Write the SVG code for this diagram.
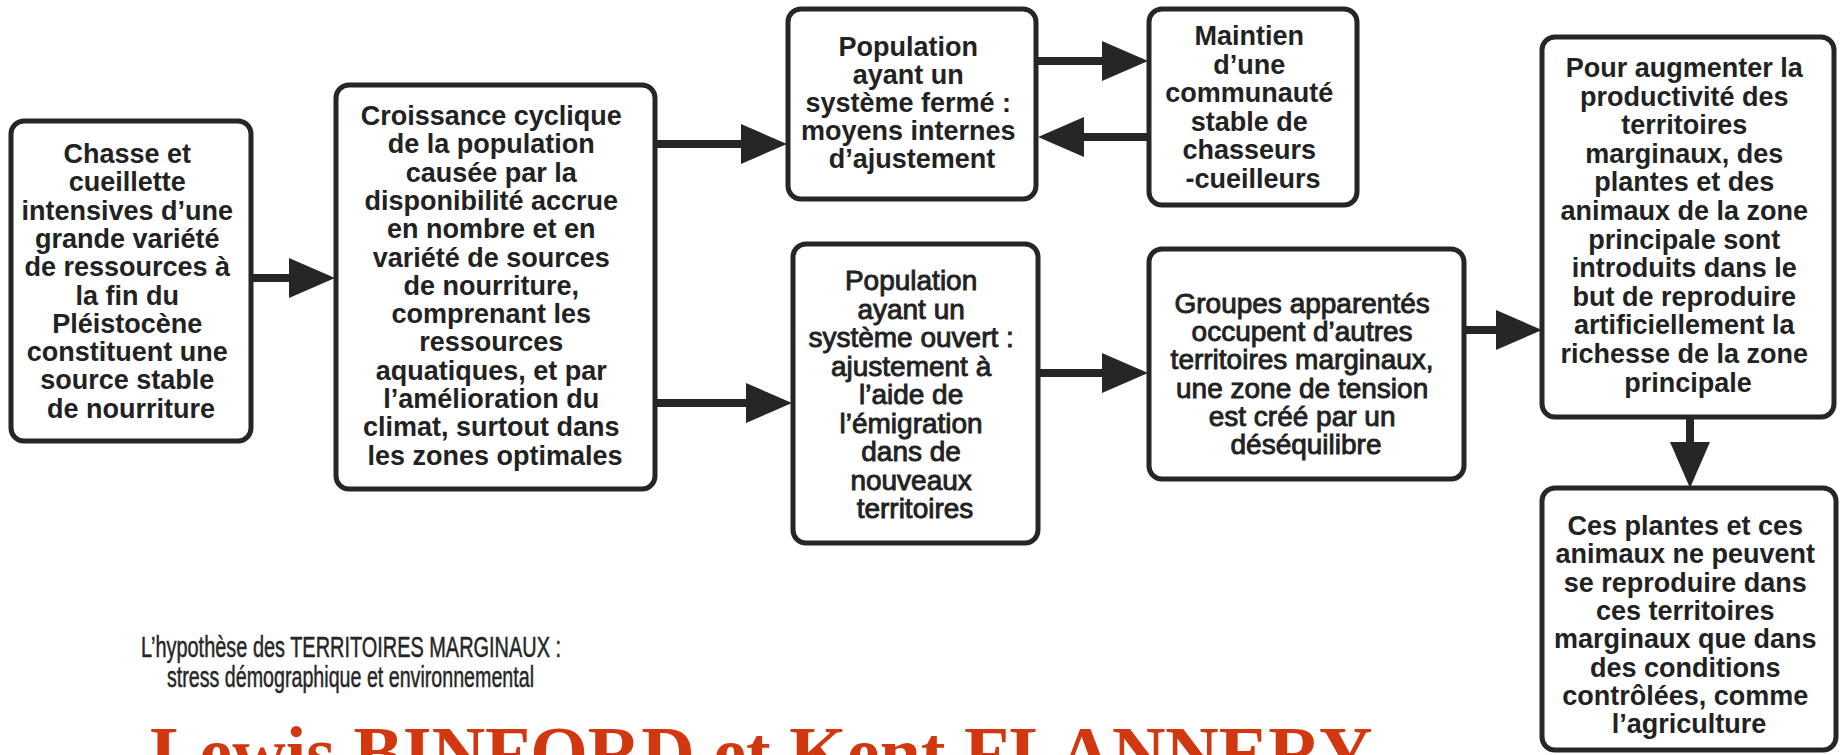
<svg xmlns="http://www.w3.org/2000/svg" width="1841" height="755" viewBox="0 0 1841 755">
<defs>
<marker id="ah" markerUnits="userSpaceOnUse" markerWidth="46" markerHeight="40" refX="0" refY="20" orient="auto" overflow="visible">
<path d="M0,0 L46,20 L0,40 Z" fill="#262626"/>
</marker>
<style>
.box{fill:#ffffff;stroke:#262626;stroke-width:5;}
.tb{font-family:"Liberation Sans",Arial,sans-serif;font-weight:bold;font-size:27px;fill:#222;text-anchor:middle;}
.tr{font-family:"Liberation Sans",Arial,sans-serif;font-weight:normal;font-size:28px;fill:#222;stroke:#222;stroke-width:0.9;text-anchor:middle;}
.cn{fill:none;stroke:#262626;stroke-width:8;marker-end:url(#ah);}
.cap{font-family:"Liberation Sans",Arial,sans-serif;font-size:29px;fill:#262626;stroke:#262626;stroke-width:0.5;}
.title{font-family:"Liberation Serif","Times New Roman",serif;font-weight:bold;font-size:74px;fill:#d2380f;}
</style>
</defs>
<rect width="1841" height="755" fill="#ffffff"/>

<g id="connectors">
<path class="cn" d="M251,278 H289"/>
<path class="cn" d="M655,144 H741"/>
<path class="cn" d="M655,403 H746"/>
<path class="cn" d="M1037,61 H1102"/>
<path class="cn" d="M1149,137 H1084"/>
<path class="cn" d="M1038,373 H1102"/>
<path class="cn" d="M1464,330 H1496"/>
<path class="cn" d="M1690,417 V442"/>
</g>

<g id="n1">
<rect class="box" x="11" y="121" width="240" height="320" rx="13"/>
<text class="tb" x="131" y="163">
<tspan x="131" dy="0">Chasse et</tspan>
<tspan x="131" dy="28.3">cueillette</tspan>
<tspan x="131" dy="28.3">intensives d’une</tspan>
<tspan x="131" dy="28.3">grande variété</tspan>
<tspan x="131" dy="28.3">de ressources à</tspan>
<tspan x="131" dy="28.3">la fin du</tspan>
<tspan x="131" dy="28.3">Pléistocène</tspan>
<tspan x="131" dy="28.3">constituent une</tspan>
<tspan x="131" dy="28.3">source stable</tspan>
<tspan x="131" dy="28.3">de nourriture</tspan>
</text>
</g>

<g id="n2">
<rect class="box" x="336" y="85" width="319" height="404" rx="13"/>
<text class="tb" x="495" y="125">
<tspan x="495" dy="0">Croissance cyclique</tspan>
<tspan x="495" dy="28.3">de la population</tspan>
<tspan x="495" dy="28.3">causée par la</tspan>
<tspan x="495" dy="28.3">disponibilité accrue</tspan>
<tspan x="495" dy="28.3">en nombre et en</tspan>
<tspan x="495" dy="28.3">variété de sources</tspan>
<tspan x="495" dy="28.3">de nourriture,</tspan>
<tspan x="495" dy="28.3">comprenant les</tspan>
<tspan x="495" dy="28.3">ressources</tspan>
<tspan x="495" dy="28.3">aquatiques, et par</tspan>
<tspan x="495" dy="28.3">l’amélioration du</tspan>
<tspan x="495" dy="28.3">climat, surtout dans</tspan>
<tspan x="495" dy="28.3">les zones optimales</tspan>
</text>
</g>

<g id="n3">
<rect class="box" x="788" y="9" width="248" height="190" rx="13"/>
<text class="tb" x="912" y="56">
<tspan x="912" dy="0">Population</tspan>
<tspan x="912" dy="28">ayant un</tspan>
<tspan x="912" dy="28">système fermé :</tspan>
<tspan x="912" dy="28">moyens internes</tspan>
<tspan x="912" dy="28">d’ajustement</tspan>
</text>
</g>

<g id="n4">
<rect class="box" x="1149" y="9" width="208" height="196" rx="13"/>
<text class="tb" x="1253" y="45">
<tspan x="1253" dy="0">Maintien</tspan>
<tspan x="1253" dy="28.5">d’une</tspan>
<tspan x="1253" dy="28.5">communauté</tspan>
<tspan x="1253" dy="28.5">stable de</tspan>
<tspan x="1253" dy="28.5">chasseurs</tspan>
<tspan x="1253" dy="28.5">-cueilleurs</tspan>
</text>
</g>

<g id="n5">
<rect class="box" x="793" y="244" width="245" height="299" rx="13"/>
<text class="tr" x="915" y="290">
<tspan x="915" dy="0">Population</tspan>
<tspan x="915" dy="28.5">ayant un</tspan>
<tspan x="915" dy="28.5">système ouvert :</tspan>
<tspan x="915" dy="28.5">ajustement à</tspan>
<tspan x="915" dy="28.5">l’aide de</tspan>
<tspan x="915" dy="28.5">l’émigration</tspan>
<tspan x="915" dy="28.5">dans de</tspan>
<tspan x="915" dy="28.5">nouveaux</tspan>
<tspan x="915" dy="28.5">territoires</tspan>
</text>
</g>

<g id="n6">
<rect class="box" x="1149" y="249" width="315" height="230" rx="13"/>
<text class="tr" x="1306" y="313">
<tspan x="1306" dy="0">Groupes apparentés</tspan>
<tspan x="1306" dy="28.2">occupent d’autres</tspan>
<tspan x="1306" dy="28.2">territoires marginaux,</tspan>
<tspan x="1306" dy="28.2">une zone de tension</tspan>
<tspan x="1306" dy="28.2">est créé par un</tspan>
<tspan x="1306" dy="28.2">déséquilibre</tspan>
</text>
</g>

<g id="n7">
<rect class="box" x="1542" y="37" width="292" height="380" rx="13"/>
<text class="tb" x="1688" y="77">
<tspan x="1688" dy="0">Pour augmenter la</tspan>
<tspan x="1688" dy="28.6">productivité des</tspan>
<tspan x="1688" dy="28.6">territoires</tspan>
<tspan x="1688" dy="28.6">marginaux, des</tspan>
<tspan x="1688" dy="28.6">plantes et des</tspan>
<tspan x="1688" dy="28.6">animaux de la zone</tspan>
<tspan x="1688" dy="28.6">principale sont</tspan>
<tspan x="1688" dy="28.6">introduits dans le</tspan>
<tspan x="1688" dy="28.6">but de reproduire</tspan>
<tspan x="1688" dy="28.6">artificiellement la</tspan>
<tspan x="1688" dy="28.6">richesse de la zone</tspan>
<tspan x="1688" dy="28.6">principale</tspan>
</text>
</g>

<g id="n8">
<rect class="box" x="1542" y="488" width="294" height="262" rx="13"/>
<text class="tb" x="1689" y="535">
<tspan x="1689" dy="0">Ces plantes et ces</tspan>
<tspan x="1689" dy="28.3">animaux ne peuvent</tspan>
<tspan x="1689" dy="28.3">se reproduire dans</tspan>
<tspan x="1689" dy="28.3">ces territoires</tspan>
<tspan x="1689" dy="28.3">marginaux que dans</tspan>
<tspan x="1689" dy="28.3">des conditions</tspan>
<tspan x="1689" dy="28.3">contrôlées, comme</tspan>
<tspan x="1689" dy="28.3">l’agriculture</tspan>
</text>
</g>

<g id="caption">
<text class="cap" x="141" y="657" textLength="420" lengthAdjust="spacingAndGlyphs">L’hypothèse des TERRITOIRES MARGINAUX :</text>
<text class="cap" x="167" y="687" textLength="367" lengthAdjust="spacingAndGlyphs">stress démographique et environnemental</text>
</g>

<g id="title">
<text class="title" x="150" y="778">Lewis BINFORD et Kent FLANNERY</text>
</g>
</svg>
